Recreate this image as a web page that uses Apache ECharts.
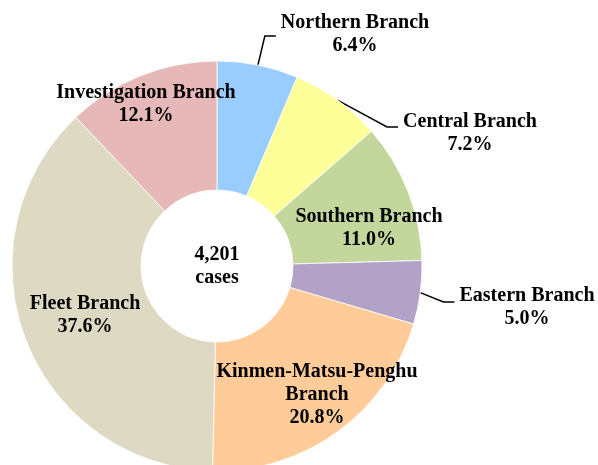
<!DOCTYPE html>
<html>
<head>
<meta charset="utf-8">
<script src="https://cdn.jsdelivr.net/npm/echarts@6/dist/echarts.min.js"></script>
<style>
  html, body { margin: 0; padding: 0; background: #fff; }
  #chart { width: 598px; height: 465px; }
</style>
</head>
<body>
<div id="chart"></div>
<script>
// share of cases per branch (%), clockwise from 12 o'clock
var branches = ['Northern Branch', 'Central Branch', 'Southern Branch', 'Eastern Branch',
  'Kinmen-Matsu-Penghu\nBranch', 'Fleet Branch', 'Investigation Branch'];
var shares = [6.4, 7.2, 11.0, 5.0, 20.8, 37.6, 12.1];
var colors = ['#99CCFF', '#FFFF99', '#C3D69B', '#B3A2C7', '#FFCC99', '#DDD9C3', '#E6B9B8'];
var totalCases = '4,201';

// layout only: label centres and leader line heights (px)
var labelAt = [[355, 34], [470, 133], [369, 228], [527, 307], [317, 395], [85, 315], [146, 104]];
var leaderY = [36, 127, null, 302, null, null, null];
var pieCenter = [217, 266];

var font = '"Liberation Serif", "Times New Roman", serif';

var chart = echarts.init(document.getElementById('chart'));

chart.setOption({
  animation: false,
  color: colors,
  graphic: [{
    type: 'text',
    x: pieCenter[0],
    y: pieCenter[1],
    style: {
      text: totalCases + '\ncases',
      fill: '#000',
      fontFamily: font,
      fontWeight: 'bold',
      fontSize: 20,
      lineHeight: 23,
      align: 'center',
      verticalAlign: 'middle'
    }
  }],
  series: [{
    type: 'pie',
    center: pieCenter,
    radius: [76, 205],
    startAngle: 90,
    clockwise: true,
    avoidLabelOverlap: false,
    itemStyle: { borderColor: '#fff', borderWidth: 0.8 },
    label: {
      show: true,
      formatter: function (p) {
        return p.name + '\n' + p.value.toFixed(1) + '%';
      },
      fontFamily: font,
      fontWeight: 'bold',
      fontSize: 20,
      lineHeight: 23,
      color: '#000',
      align: 'center'
    },
    labelLine: { show: true, lineStyle: { color: '#000', width: 1.5 } },
    data: branches.map(function (name, i) {
      var out = leaderY[i] != null;
      return {
        name: name,
        value: shares[i],
        label: { position: out ? 'outside' : 'inside' },
        labelLine: { show: out }
      };
    }),
    labelLayout: function (p) {
      var pos = labelAt[p.dataIndex];
      var res = { x: pos[0], y: pos[1], align: 'center', verticalAlign: 'middle' };
      var ly = leaderY[p.dataIndex];
      if (ly != null && p.labelLinePoints) {
        var a = p.labelLinePoints[0];
        var endX = pos[0] - p.labelRect.width / 2 - 5;
        res.labelLinePoints = [[a[0], a[1]], [endX - 11, ly], [endX, ly]];
      }
      return res;
    }
  }]
});
</script>
</body>
</html>
